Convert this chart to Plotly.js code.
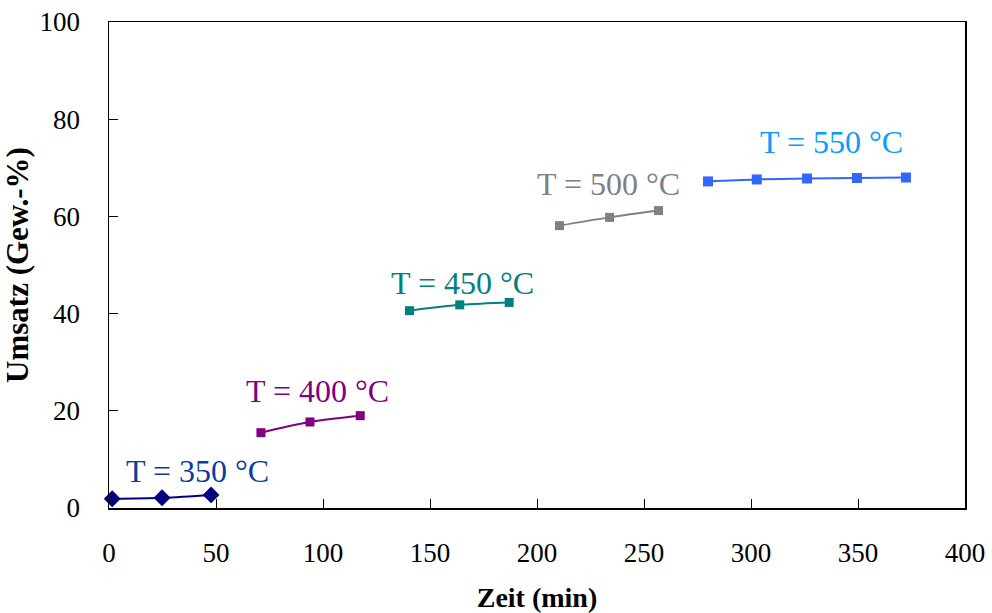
<!DOCTYPE html>
<html>
<head>
<meta charset="utf-8">
<script src="https://cdn.plot.ly/plotly-3.0.1.min.js"></script>
<style>html,body{margin:0;padding:0;background:#fff;}#chart{width:992px;height:613px;}</style>
</head>
<body>
<div id="chart"></div>
<script>
// Data
const seriesNames = ["T = 350 °C", "T = 400 °C", "T = 450 °C", "T = 500 °C", "T = 550 °C"];
const time350 = [1.5, 24.8, 47.7];
const conv350 = [1.9, 2.1, 2.7];
const time400 = [71.0, 93.9, 117.4];
const conv400 = [15.5, 17.7, 19.0];
const time450 = [140.4, 163.9, 187.0];
const conv450 = [40.6, 41.8, 42.3];
const time500 = [210.5, 233.9, 256.8];
const conv500 = [58.1, 59.8, 61.2];
const time550 = [279.9, 302.7, 326.2, 349.5, 372.4];
const conv550 = [67.2, 67.6, 67.8, 67.9, 68.0];
const xTicks = [0, 50, 100, 150, 200, 250, 300, 350, 400];
const yTicks = [0, 20, 40, 60, 80, 100];

const times = [time350, time400, time450, time500, time550];
const convs = [conv350, conv400, conv450, conv500, conv550];
const lineColors = ["#000080", "#800080", "#008080", "#808080", "#3366FF"];
const textColors = ["#0A3C9C", "#800080", "#008080", "#808080", "#0A9BFF"];
const symbols = ["diamond", "square", "square", "square", "square"];
const msizes = [13, 9, 9, 9, 10];
const labelPos = [[41.2, 7.6], [97.3, 24.1], [165.4, 46.4], [233.5, 66.6], [337.5, 75.3]];

const FONT = "Liberation Serif";

const traces = times.map((t, i) => ({
  x: t, y: convs[i], type: "scatter", mode: "lines+markers",
  name: seriesNames[i],
  line: {color: lineColors[i], width: 2, shape: "spline"},
  marker: {color: lineColors[i], symbol: symbols[i], size: msizes[i]},
  cliponaxis: false
}));

const annotations = seriesNames.map((s, i) => ({
  x: labelPos[i][0], y: labelPos[i][1], xref: "x", yref: "y",
  text: s, showarrow: false,
  font: {family: FONT, size: 32, color: textColors[i]}
}));

const layout = {
  width: 992, height: 613,
  margin: {l: 109, r: 27, t: 22, b: 105},
  paper_bgcolor: "#fff", plot_bgcolor: "#fff",
  showlegend: false,
  font: {family: FONT, color: "#000"},
  xaxis: {
    range: [0, 400], tickvals: xTicks, ticktext: xTicks.map(String),
    showgrid: false, zeroline: false,
    showline: true, linecolor: "#000", linewidth: 1.5, mirror: true,
    ticks: "inside", ticklen: 9, tickcolor: "#000",
    tickfont: {family: FONT, size: 27, color: "#000"},
    ticklabelstandoff: 20,
    title: {text: "<b>Zeit (min)</b>", font: {family: FONT, size: 28, color: "#000"}, standoff: 22}
  },
  yaxis: {
    range: [0, 100], tickvals: yTicks, ticktext: yTicks.map(String),
    showgrid: false, zeroline: false,
    showline: true, linecolor: "#000", linewidth: 1.5, mirror: true,
    ticks: "inside", ticklen: 9, tickcolor: "#000",
    tickfont: {family: FONT, size: 27, color: "#000"},
    ticklabelstandoff: 22,
    title: {text: "<b>Umsatz (Gew.-%)</b>", font: {family: FONT, size: 31, color: "#000"}, standoff: 12}
  },
  annotations: annotations
};

Plotly.newPlot("chart", traces, layout, {displayModeBar: false, staticPlot: true});
</script>
</body>
</html>
